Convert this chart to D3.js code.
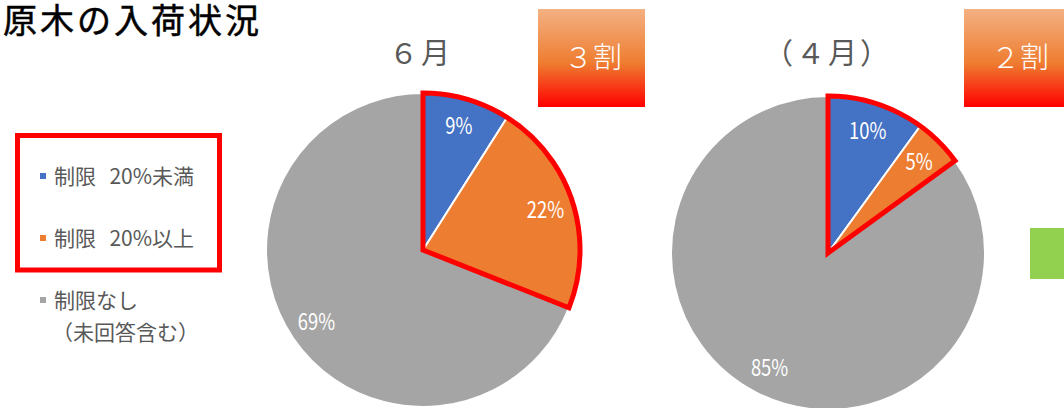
<!DOCTYPE html>
<html>
<head>
<meta charset="utf-8">
<script src="https://cdn.jsdelivr.net/npm/d3@7"></script>
<style>
  html, body { margin: 0; padding: 0; background: #fff; }
  svg { display: block; font-family: "Noto Sans CJK JP", "Noto Sans", sans-serif; }
</style>
</head>
<body>
<svg id="chart" width="1064" height="408"></svg>
<script>
// categories (legend order = slice order)
var categories = ["制限  20%未満", "制限  20%以上", "制限なし"];
var categoryNote = "（未回答含む）";
var colors = ["#4472C4", "#ED7D31", "#A5A5A5"];

// series values (%)
var juneValues = [9, 22, 69];
var aprilValues = [10, 5, 85];

// titles / callouts
var mainTitle = "原木の入荷状況";
var pieTitles = ["６月", "（４月）"];
var callouts = ["３割", "２割"];

var svg = d3.select("#chart");

// gradient for the callout boxes
var defs = svg.append("defs");
var grad = defs.append("linearGradient")
  .attr("id", "boxGrad")
  .attr("x1", 0).attr("y1", 0).attr("x2", 0).attr("y2", 1);
grad.append("stop").attr("offset", "0%").attr("stop-color", "#F4B183");
grad.append("stop").attr("offset", "55%").attr("stop-color", "#EE7D31");
grad.append("stop").attr("offset", "100%").attr("stop-color", "#FF0000");

// main title
svg.append("text")
  .attr("x", 3)
  .attr("y", 33)
  .attr("font-size", 34)
  .attr("font-weight", 400)
  .attr("letter-spacing", 3)
  .attr("fill", "#000")
  .attr("stroke", "#000")
  .attr("stroke-width", 0.5)
  .text(mainTitle);

// legend
var legend = svg.append("g");
legend.append("rect")
  .attr("x", 17.5).attr("y", 135.5)
  .attr("width", 202).attr("height", 134.5)
  .attr("fill", "none")
  .attr("stroke", "#FF0000")
  .attr("stroke-width", 5);

var legendY = [184, 246, 308];
categories.forEach(function(c, i) {
  legend.append("rect")
    .attr("x", 40).attr("y", legendY[i] - 11)
    .attr("width", 6).attr("height", 6)
    .attr("fill", colors[i]);
  legend.append("text")
    .attr("x", 54).attr("y", legendY[i])
    .attr("font-size", 21)
    .attr("word-spacing", 2)
    .attr("fill", "#595959")
    .text(c.replace(/ /g, "\u00a0"));
});
legend.append("text")
  .attr("x", 52).attr("y", 340)
  .attr("font-size", 21)
  .attr("fill", "#595959")
  .text(categoryNote);

// pies
var radius = 157;
var pie = d3.pie().sort(null).value(function(d) { return d; });
var arc = d3.arc().innerRadius(0).outerRadius(radius);
var labelArc = d3.arc().innerRadius(radius * 0.82).outerRadius(radius * 0.82);

function drawPie(values, cx, cy, title, titleX) {
  var g = svg.append("g").attr("transform", "translate(" + cx + "," + cy + ")");
  var arcs = pie(values);

  g.selectAll("path.slice")
    .data(arcs)
    .enter().append("path")
    .attr("class", "slice")
    .attr("d", arc)
    .attr("fill", function(d, i) { return colors[i]; })
    .attr("stroke", "#fff")
    .attr("stroke-width", 2)
    .attr("stroke-linejoin", "round");

  // red outline round the "restricted" slices
  var total = d3.sum(values);
  var restricted = (values[0] + values[1]) / total * Math.PI * 2;
  g.append("path")
    .attr("d", arc({ startAngle: 0, endAngle: restricted }))
    .attr("fill", "none")
    .attr("stroke", "#FF0000")
    .attr("stroke-width", 5)
    .attr("stroke-linejoin", "miter");

  g.selectAll("text.lbl")
    .data(arcs)
    .enter().append("text")
    .attr("class", "lbl")
    .attr("transform", function(d) {
      var c = labelArc.centroid(d);
      return "translate(" + c[0] + "," + (c[1] + 8) + ") scale(0.8,1)";
    })
    .attr("text-anchor", "middle")
    .attr("font-size", 23)
    .attr("fill", "#fff")
    .text(function(d) { return d.data + "%"; });

  svg.append("text")
    .attr("x", titleX).attr("y", 64)
    .attr("text-anchor", "middle")
    .attr("font-size", 29)
    .attr("letter-spacing", 3)
    .attr("fill", "#595959")
    .text(title);
}

drawPie(juneValues, 423, 250, pieTitles[0], 421);
drawPie(aprilValues, 828, 253, pieTitles[1], 828);

// callout boxes
var boxes = [
  { x: 538, w: 107, tx: 593 },
  { x: 964, w: 100, tx: 1020 }
];
boxes.forEach(function(b, i) {
  svg.append("rect")
    .attr("x", b.x).attr("y", 9)
    .attr("width", b.w).attr("height", 98)
    .attr("fill", "url(#boxGrad)");
  svg.append("text")
    .attr("x", b.tx).attr("y", 68)
    .attr("text-anchor", "middle")
    .attr("font-size", 29)
    .attr("font-weight", 300)
    .attr("fill", "#fff")
    .text(callouts[i]);
});

// green shape at the right edge
svg.append("rect")
  .attr("x", 1030).attr("y", 228)
  .attr("width", 34).attr("height", 51)
  .attr("fill", "#92D050");
</script>
</body>
</html>
